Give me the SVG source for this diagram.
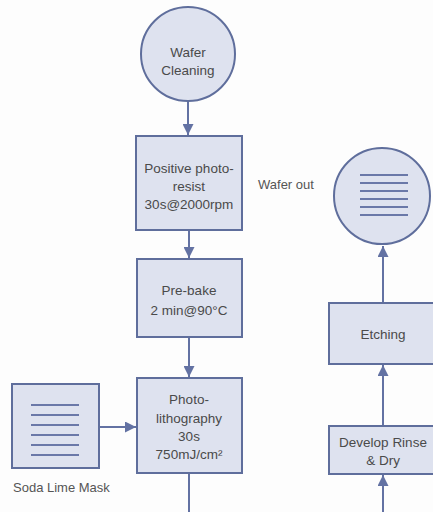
<svg xmlns="http://www.w3.org/2000/svg" width="433" height="512" viewBox="0 0 433 512">
<style>
.n{fill:#dee2ef;stroke:#5f6e9c;stroke-width:2}
.t{font-family:"Liberation Sans",Arial,sans-serif;font-size:13.5px;fill:#4a4a4a;text-anchor:middle}
.l{fill:#555;font-family:"Liberation Sans",Arial,sans-serif;font-size:13px}
.c{stroke:#6372a3;stroke-width:2;fill:none}
.h{stroke:#6a78a8;stroke-width:2}
</style>
<defs>
<marker id="a" viewBox="0 0 10 10" refX="10" refY="5" markerWidth="5.5" markerHeight="5.5" orient="auto" markerUnits="strokeWidth">
<path d="M0,0 L10,5 L0,10 z" fill="#6372a3"/>
</marker>
</defs>
<rect width="433" height="512" fill="#fdfdfd"/>
<g id="connectors">
<line class="c" x1="188" y1="101" x2="188" y2="135" marker-end="url(#a)"/>
<line class="c" x1="189" y1="231" x2="189" y2="258" marker-end="url(#a)"/>
<line class="c" x1="189" y1="338" x2="189" y2="377" marker-end="url(#a)"/>
<line class="c" x1="189" y1="474" x2="189" y2="512"/>
<line class="c" x1="100" y1="427" x2="136" y2="427" marker-end="url(#a)"/>
<line class="c" x1="383" y1="512" x2="383" y2="475" marker-end="url(#a)"/>
<line class="c" x1="383" y1="425" x2="383" y2="365" marker-end="url(#a)"/>
<line class="c" x1="383" y1="302" x2="383" y2="246" marker-end="url(#a)"/>
</g>
<g id="wafer-cleaning">
<circle class="n" cx="188" cy="54" r="47"/>
<text class="t" x="188" y="57">Wafer</text>
<text class="t" x="188" y="75">Cleaning</text>
</g>
<g id="positive-photoresist">
<rect class="n" x="136" y="136" width="106" height="94"/>
<text class="t" x="189" y="173">Positive photo-</text>
<text class="t" x="189" y="191">resist</text>
<text class="t" x="189" y="209">30s@2000rpm</text>
</g>
<g id="pre-bake">
<rect class="n" x="137" y="259" width="105" height="78"/>
<text class="t" x="189" y="295">Pre-bake</text>
<text class="t" x="189" y="315">2 min@90°C</text>
</g>
<g id="photolithography">
<rect class="n" x="137" y="378" width="105" height="95"/>
<text class="t" x="189" y="404">Photo-</text>
<text class="t" x="189" y="423">lithography</text>
<text class="t" x="189" y="441">30s</text>
<text class="t" x="189" y="459">750mJ/cm²</text>
</g>
<g id="soda-lime-mask">
<rect class="n" x="12" y="384" width="87" height="84"/>
<g class="h">
<line x1="31" y1="405" x2="79" y2="405"/>
<line x1="31" y1="415" x2="79" y2="415"/>
<line x1="31" y1="425" x2="79" y2="425"/>
<line x1="31" y1="435" x2="79" y2="435"/>
<line x1="31" y1="445" x2="79" y2="445"/>
<line x1="31" y1="455" x2="79" y2="455"/>
</g>
<text class="l" x="13" y="492">Soda Lime Mask</text>
</g>
<g id="wafer-out">
<circle class="n" cx="382" cy="196" r="48"/>
<g class="h">
<line x1="360" y1="175" x2="408" y2="175"/>
<line x1="360" y1="183" x2="408" y2="183"/>
<line x1="360" y1="191" x2="408" y2="191"/>
<line x1="360" y1="199" x2="408" y2="199"/>
<line x1="360" y1="207" x2="408" y2="207"/>
<line x1="360" y1="215" x2="408" y2="215"/>
</g>
<text class="l" x="258" y="189">Wafer out</text>
</g>
<g id="etching">
<rect class="n" x="329" y="303" width="108" height="61"/>
<text class="t" x="383" y="339">Etching</text>
</g>
<g id="develop-rinse-dry">
<rect class="n" x="329" y="426" width="108" height="48"/>
<text class="t" x="383" y="447">Develop Rinse</text>
<text class="t" x="383" y="465">&amp; Dry</text>
</g>
</svg>
